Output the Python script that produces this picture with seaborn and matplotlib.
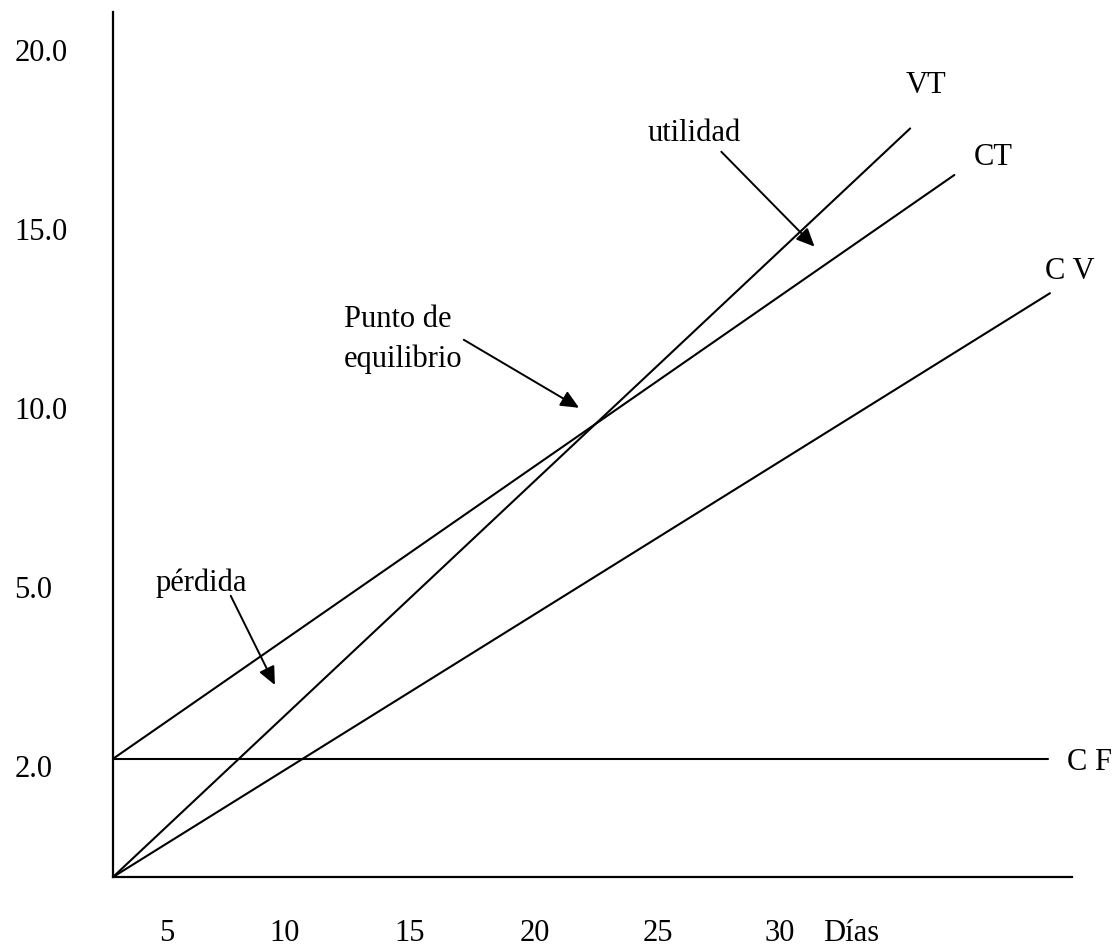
import matplotlib
matplotlib.use("Agg")
import matplotlib.pyplot as plt
import seaborn as sns

sns.set_style("white")
plt.rcParams['font.family'] = ['Liberation Serif', 'DejaVu Serif']
plt.rcParams['font.size'] = 22
plt.rcParams['text.color'] = 'black'
plt.rcParams['xtick.color'] = 'black'
plt.rcParams['ytick.color'] = 'black'

# datos del grafico de punto de equilibrio (unidades del esquema)
vt_x = [0, 32.5]
vt_y = [0, 20.9]
ct_x = [0, 34.3]
ct_y = [3.3, 19.6]
cv_x = [0, 38.2]
cv_y = [0, 16.3]
cf_x = [0, 38.1]
cf_y = [3.3, 3.3]

x_labels = ['5', '10', '15', '20', '25', '30', 'Días']
y_labels = ['20.0', '15.0', '10.0', '5.0', '2.0']

# posiciones de las etiquetas (esquema, no lineal)
x_pos = [2.2, 7.0, 12.1, 17.2, 22.2, 27.2, 30.1]
y_pos = [23.1, 18.1, 13.1, 8.1, 3.1]

fig = plt.figure(figsize=(11.2, 9.48), dpi=100)
ax = fig.add_axes([0.1009, 0.0749, 0.8563, 0.9124])

for xs, ys in [(vt_x, vt_y), (ct_x, ct_y), (cv_x, cv_y), (cf_x, cf_y)]:
    sns.lineplot(x=xs, y=ys, color='black', lw=1.5, ax=ax)

ax.set_xlim(0, 39.1)
ax.set_ylim(0, 24.15)
sns.despine(ax=ax)
for s in ['left', 'bottom']:
    ax.spines[s].set_color('black')
    ax.spines[s].set_linewidth(1.6)

ax.set_xticks(x_pos)
ax.set_xticklabels(x_labels)
ax.set_yticks(y_pos)
ax.set_yticklabels(y_labels)
ax.tick_params(axis='x', length=0, pad=30)
ax.tick_params(axis='y', length=0, pad=71)
plt.setp(ax.get_yticklabels(), ha='left')

# nombres de las rectas
ax.text(32.3, 22.1, 'VT', ha='left', va='center')
ax.text(35.1, 20.1, 'CT', ha='left', va='center')
ax.text(38.0, 16.9, 'C V', ha='left', va='center')
ax.text(38.9, 3.2, 'C F', ha='left', va='center')

# anotaciones con flechas
arrow = dict(arrowstyle='-|>,head_length=0.55,head_width=0.25', color='black',
             lw=1.4, mutation_scale=20, shrinkA=0, shrinkB=0)
ax.text(21.8, 20.75, 'utilidad', ha='left', va='center')
ax.annotate('', xy=(28.6, 17.6), xytext=(24.8, 20.25), arrowprops=arrow)
ax.text(9.4, 15.0, 'Punto de\nequilibrio', ha='left', va='center', linespacing=1.45)
ax.annotate('', xy=(19.0, 13.1), xytext=(14.3, 15.0), arrowprops=arrow)
ax.text(1.75, 8.2, 'pérdida', ha='left', va='center')
ax.annotate('', xy=(6.6, 5.36), xytext=(4.8, 7.85), arrowprops=arrow)

plt.savefig('out.png', dpi=100)
